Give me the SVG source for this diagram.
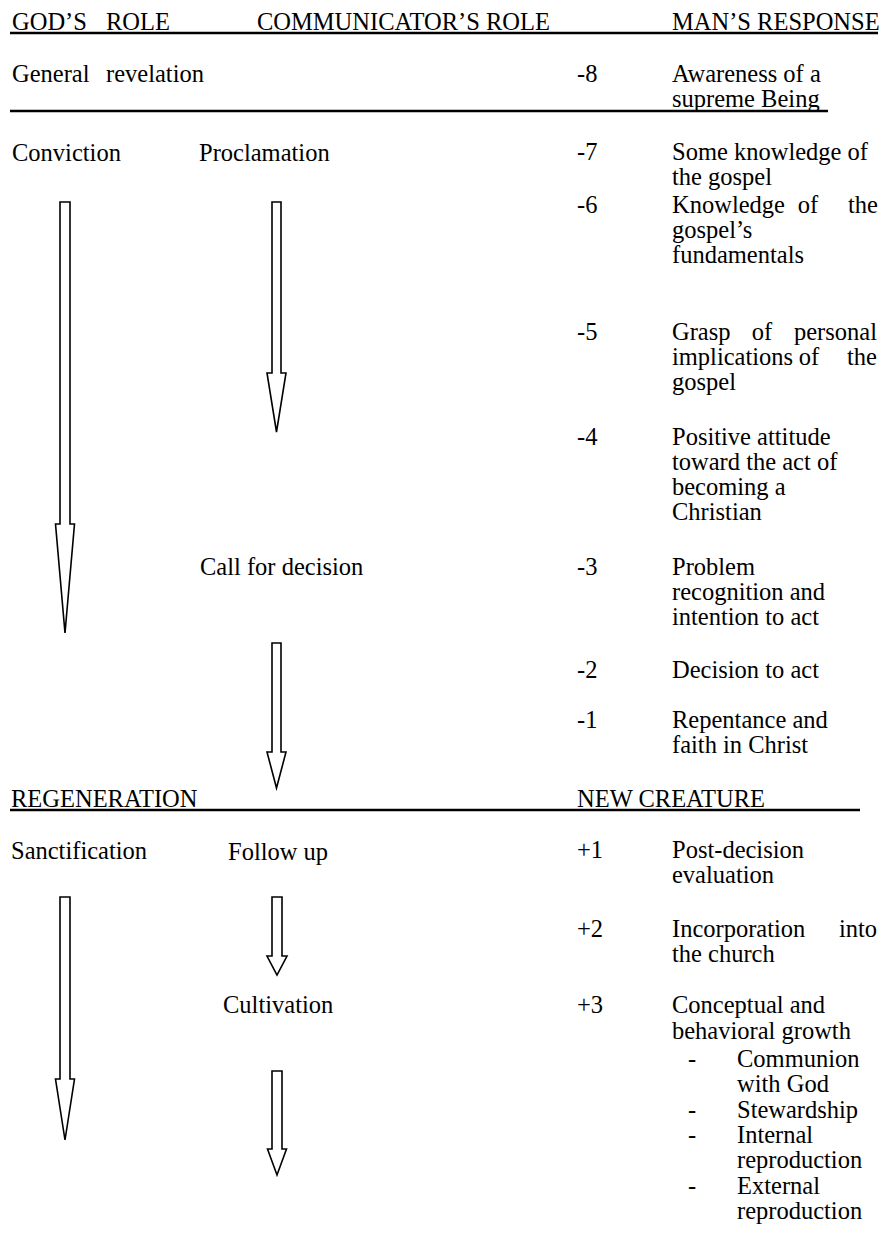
<svg xmlns="http://www.w3.org/2000/svg" width="882" height="1238" viewBox="0 0 882 1238">
<style>
text{font-family:"Liberation Serif","Times New Roman",serif;font-size:24.5px;fill:#000}
.rule{stroke:#000;stroke-width:2.5;fill:none}
.arrow{fill:#fff;stroke:#000;stroke-width:1.6;stroke-linejoin:miter}
.e{text-anchor:end}
.m{text-anchor:middle}
</style>
<rect width="882" height="1238" fill="#fff"/>
<g id="headers">
<text x="12" y="30">GOD’S</text><text x="106" y="30">ROLE</text>
<text x="257" y="30">COMMUNICATOR’S ROLE</text>
<text x="672" y="30">MAN’S RESPONSE</text>
<line class="rule" x1="10" y1="33" x2="878" y2="33"/>
</g>
<g id="general-revelation">
<text x="12" y="82">General</text><text x="106" y="82">revelation</text>
<text x="577" y="82">-8</text>
<text x="672" y="82">Awareness of a</text>
<text x="672" y="107">supreme Being</text>
<line class="rule" x1="10" y1="111" x2="828" y2="111"/>
</g>
<g id="conviction"><text x="12" y="161">Conviction</text></g>
<g id="proclamation"><text x="199" y="161">Proclamation</text></g>
<g id="step-7"><text x="577" y="160">-7</text><text x="672" y="160">Some knowledge of</text><text x="672" y="185">the gospel</text></g>
<g id="step-6"><text x="577" y="213">-6</text><text x="672" y="213">Knowledge</text><text class="m" x="808" y="213">of</text><text class="e" x="878" y="213">the</text><text x="672" y="238">gospel’s</text><text x="672" y="263">fundamentals</text></g>
<g id="step-5"><text x="577" y="340">-5</text><text x="672" y="340">Grasp</text><text class="m" x="762" y="340">of</text><text class="e" x="877" y="340">personal</text><text x="672" y="365">implications</text><text class="m" x="809" y="365">of</text><text class="e" x="877" y="365">the</text><text x="672" y="390">gospel</text></g>
<g id="step-4"><text x="577" y="445">-4</text><text x="672" y="445">Positive attitude</text><text x="672" y="470">toward the act of</text><text x="672" y="495">becoming a</text><text x="672" y="520">Christian</text></g>
<g id="call-for-decision"><text x="200" y="575">Call for decision</text></g>
<g id="step-3"><text x="577" y="575">-3</text><text x="672" y="575">Problem</text><text x="672" y="600">recognition and</text><text x="672" y="625">intention to act</text></g>
<g id="step-2"><text x="577" y="678">-2</text><text x="672" y="678">Decision to act</text></g>
<g id="step-1"><text x="577" y="728">-1</text><text x="672" y="728">Repentance and</text><text x="672" y="753">faith in Christ</text></g>
<g id="regeneration">
<text x="11" y="807">REGENERATION</text>
<text x="577" y="807">NEW CREATURE</text>
<line class="rule" x1="10" y1="810" x2="860" y2="810"/>
</g>
<g id="sanctification"><text x="11" y="859">Sanctification</text></g>
<g id="follow-up"><text x="228" y="860">Follow up</text></g>
<g id="step+1"><text x="577" y="858">+1</text><text x="672" y="858">Post-decision</text><text x="672" y="883">evaluation</text></g>
<g id="step+2"><text x="577" y="937">+2</text><text x="672" y="937">Incorporation</text><text class="e" x="877" y="937">into</text><text x="672" y="962">the church</text></g>
<g id="cultivation"><text x="223" y="1013">Cultivation</text></g>
<g id="step+3"><text x="577" y="1013">+3</text><text x="672" y="1013">Conceptual and</text><text x="672" y="1039">behavioral growth</text>
<text x="688" y="1067">-</text><text x="737" y="1067">Communion</text><text x="737" y="1092">with God</text>
<text x="688" y="1118">-</text><text x="737" y="1118">Stewardship</text>
<text x="688" y="1143">-</text><text x="737" y="1143">Internal</text><text x="737" y="1168">reproduction</text>
<text x="688" y="1194">-</text><text x="737" y="1194">External</text><text x="737" y="1219">reproduction</text>
</g>
<g id="connectors">
<path class="arrow" d="M60,202 H70 V524 H74.5 L65,633 L55.5,524 H60 Z"/>
<path class="arrow" d="M272,202 H281 V373 H286 L276.5,432 L267,373 H272 Z"/>
<path class="arrow" d="M272,643 H281 V752 H286 L276.5,788 L267,752 H272 Z"/>
<path class="arrow" d="M60,897 H70 V1079 H74.5 L65,1140 L55.5,1079 H60 Z"/>
<path class="arrow" d="M272,897 H282 V956 H287 L277,975 L267,956 H272 Z"/>
<path class="arrow" d="M272,1071 H282 V1149 H286.5 L277,1175 L267.5,1149 H272 Z"/>
</g>
</svg>
